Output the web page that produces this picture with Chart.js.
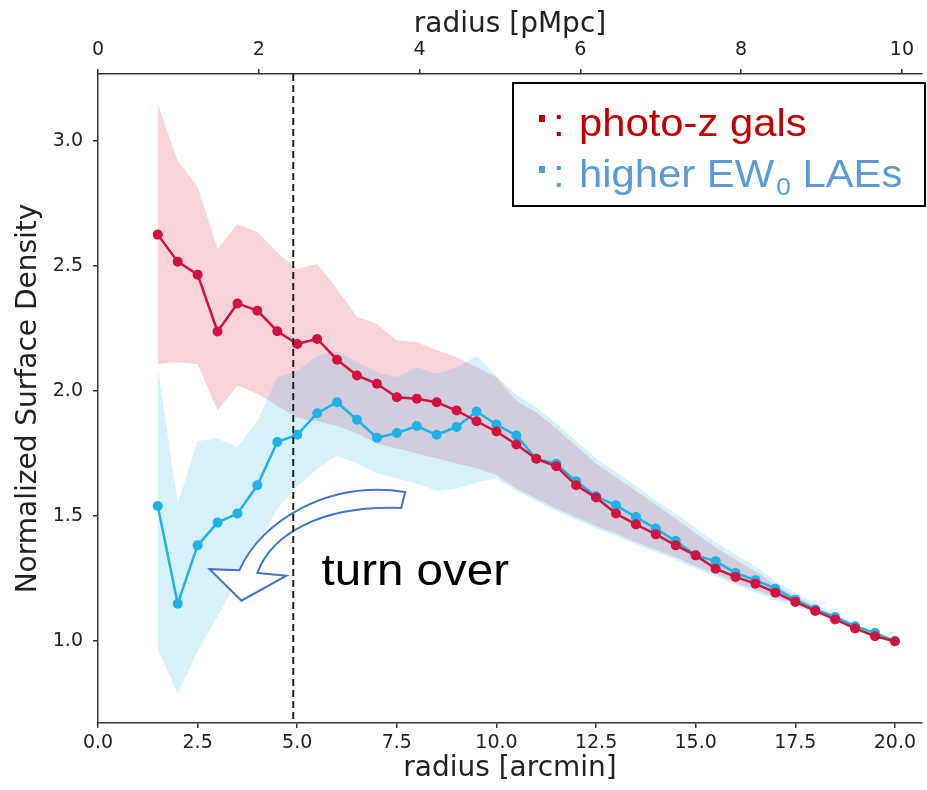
<!DOCTYPE html>
<html>
<head>
<meta charset="utf-8">
<script src="https://cdn.jsdelivr.net/npm/chart.js@4.4.1/dist/chart.umd.min.js"></script>
<style>
  html, body { margin: 0; padding: 0; background: #fff; overflow: hidden; }
</style>
</head>
<body>
<canvas id="grafico" width="927" height="790"></canvas>
<script>
// raio em arcmin (eixo de baixo)
const radiusArcmin = [1.5, 2.0, 2.5, 3.0, 3.5, 4.0, 4.5, 5.0, 5.5, 6.0, 6.5, 7.0, 7.5, 8.0, 8.5, 9.0, 9.5, 10.0,
  10.5, 11.0, 11.5, 12.0, 12.5, 13.0, 13.5, 14.0, 14.5, 15.0, 15.5, 16.0, 16.5, 17.0, 17.5, 18.0, 18.5, 19.0, 19.5, 20.0];

// photo-z gals
const photozDensity = [2.625, 2.517, 2.465, 2.238, 2.350, 2.321, 2.239, 2.188, 2.208, 2.125, 2.062, 2.029, 1.975, 1.969, 1.955, 1.922, 1.879, 1.838,
  1.786, 1.729, 1.699, 1.623, 1.574, 1.510, 1.467, 1.427, 1.383, 1.343, 1.290, 1.257, 1.230, 1.194, 1.157, 1.121, 1.087, 1.051, 1.020, 1.000];
const photozUpper = [3.147, 2.920, 2.816, 2.568, 2.667, 2.634, 2.554, 2.488, 2.508, 2.408, 2.297, 2.268, 2.202, 2.195, 2.164, 2.135, 2.095, 2.055,
  1.960, 1.915, 1.850, 1.780, 1.710, 1.655, 1.600, 1.545, 1.490, 1.430, 1.375, 1.325, 1.280, 1.225, 1.180, 1.140, 1.095, 1.060, 1.020, 1.000];
const photozLower = [2.108, 2.115, 2.108, 1.922, 2.022, 1.989, 1.940, 1.893, 1.880, 1.860, 1.830, 1.790, 1.770, 1.750, 1.730, 1.710, 1.690, 1.665,
  1.610, 1.570, 1.530, 1.495, 1.460, 1.430, 1.395, 1.365, 1.335, 1.300, 1.270, 1.235, 1.205, 1.175, 1.150, 1.120, 1.095, 1.065, 1.035, 1.000];

// higher EW0 LAEs
const laeDensity = [1.540, 1.150, 1.383, 1.474, 1.510, 1.623, 1.796, 1.825, 1.911, 1.955, 1.885, 1.813, 1.832, 1.860, 1.825, 1.856, 1.918, 1.866,
  1.822, 1.729, 1.709, 1.639, 1.579, 1.543, 1.496, 1.450, 1.400, 1.343, 1.320, 1.273, 1.244, 1.210, 1.166, 1.127, 1.097, 1.060, 1.033, 1.000];
const laeUpper = [2.095, 1.550, 1.800, 1.810, 1.776, 1.880, 2.055, 2.080, 2.140, 2.160, 2.115, 2.075, 2.055, 2.095, 2.069, 2.095, 2.140, 2.060,
  1.985, 1.935, 1.870, 1.800, 1.730, 1.675, 1.620, 1.563, 1.510, 1.450, 1.395, 1.345, 1.300, 1.240, 1.195, 1.150, 1.105, 1.065, 1.025, 1.000];
const laeLower = [0.970, 0.790, 0.960, 1.100, 1.243, 1.385, 1.528, 1.620, 1.687, 1.742, 1.710, 1.670, 1.650, 1.630, 1.600, 1.610, 1.635, 1.650,
  1.600, 1.560, 1.520, 1.485, 1.450, 1.420, 1.385, 1.355, 1.325, 1.290, 1.260, 1.225, 1.195, 1.165, 1.140, 1.110, 1.085, 1.060, 1.030, 1.000];

// ticks
const xTicks = [0, 2.5, 5, 7.5, 10, 12.5, 15, 17.5, 20];
const topTicks = [0, 2, 4, 6, 8, 10];
const yTicks = [1.0, 1.5, 2.0, 2.5, 3.0];

// linha tracejada (turn over)
const turnOverRadius = 4.9;

const pontos = (ys) => radiusArcmin.map((x, i) => ({ x: x, y: ys[i] }));

// texto esticado na horizontal (caixa de texto do slide)
function textoEsticado(ctx, texto, x, y, escala) {
  ctx.save();
  ctx.translate(x, y);
  ctx.scale(escala, 1);
  ctx.fillText(texto, 0, 0);
  ctx.restore();
  return ctx.measureText(texto).width * escala;
}

const overlayPlugin = {
  id: 'overlay',
  afterDraw(chart) {
    const { ctx, chartArea: a } = chart;
    const sx = chart.scales.x, sy = chart.scales.y;
    const P = (vx, vy) => [sx.getPixelForValue(vx), sy.getPixelForValue(vy)];
    ctx.save();

    // seta curva
    ctx.beginPath();
    ctx.moveTo(...P(7.71, 1.596));
    ctx.bezierCurveTo(...P(5.81, 1.644), ...P(4.10, 1.484), ...P(3.55, 1.284));
    ctx.lineTo(...P(2.80, 1.288));
    ctx.lineTo(...P(3.60, 1.162));
    ctx.lineTo(...P(4.73, 1.262));
    ctx.lineTo(...P(4.00, 1.273));
    ctx.bezierCurveTo(...P(4.35, 1.424), ...P(5.56, 1.544), ...P(7.61, 1.532));
    ctx.closePath();
    ctx.fillStyle = '#ffffff';
    ctx.fill();
    ctx.strokeStyle = '#4472c4';
    ctx.lineWidth = 2;
    ctx.lineJoin = 'miter';
    ctx.stroke();

    // linha tracejada
    const xd = sx.getPixelForValue(turnOverRadius);
    ctx.setLineDash([7, 4]);
    ctx.strokeStyle = '#222';
    ctx.lineWidth = 2;
    ctx.beginPath();
    ctx.moveTo(xd, a.top);
    ctx.lineTo(xd, a.bottom);
    ctx.stroke();
    ctx.setLineDash([]);

    // "turn over"
    ctx.fillStyle = '#000';
    ctx.font = '44px "Liberation Sans", Arial, sans-serif';
    ctx.textBaseline = 'alphabetic';
    const [tx, ty] = P(5.61, 1.225);
    textoEsticado(ctx, 'turn over', tx, ty, 1.08);

    // legenda (caixa)
    ctx.fillStyle = '#fff';
    ctx.fillRect(513, 83, 412, 123);
    ctx.strokeStyle = '#000';
    ctx.lineWidth = 2;
    ctx.strokeRect(513, 83, 412, 123);

    const esc = 1.1;
    ctx.font = '38px "Liberation Sans", Arial, sans-serif';
    ctx.fillStyle = '#c00000';
    ctx.fillRect(539, 115, 6, 7);
    textoEsticado(ctx, ':', 553, 136, esc);
    textoEsticado(ctx, 'photo-z gals', 579, 136, esc);

    ctx.fillStyle = '#5b9bd5';
    ctx.fillRect(539, 166, 6, 7);
    textoEsticado(ctx, ':', 553, 187, esc);
    let px = 579 + textoEsticado(ctx, 'higher EW', 579, 187, esc);
    ctx.font = '24px "Liberation Sans", Arial, sans-serif';
    px += 2 + textoEsticado(ctx, '0', px + 2, 195, esc);
    ctx.font = '38px "Liberation Sans", Arial, sans-serif';
    textoEsticado(ctx, ' LAEs', px, 187, esc);

    ctx.restore();
  }
};

Chart.defaults.font.family = '"DejaVu Sans", sans-serif';
Chart.defaults.color = '#222';

const corVermelha = '#d2123f';
const corAzul = '#1fb2e6';

new Chart(document.getElementById('grafico').getContext('2d'), {
  type: 'line',
  data: {
    datasets: [
      {
        data: pontos(photozUpper), fill: '+1', backgroundColor: 'rgba(220,20,60,0.19)',
        borderWidth: 0, pointRadius: 0, order: 4
      },
      {
        data: pontos(photozLower), fill: false, borderWidth: 0, pointRadius: 0, order: 5
      },
      {
        data: pontos(laeUpper), fill: '+1', backgroundColor: 'rgba(40,180,235,0.19)',
        borderWidth: 0, pointRadius: 0, order: 2
      },
      {
        data: pontos(laeLower), fill: false, borderWidth: 0, pointRadius: 0, order: 3
      },
      {
        data: pontos(laeDensity), borderColor: corAzul, backgroundColor: corAzul,
        borderWidth: 2.5, pointRadius: 5, pointBorderWidth: 0, fill: false, order: 1
      },
      {
        data: pontos(photozDensity), borderColor: corVermelha, backgroundColor: corVermelha,
        borderWidth: 2.5, pointRadius: 5, pointBorderWidth: 0, fill: false, order: 0
      }
    ]
  },
  options: {
    responsive: false,
    animation: false,
    devicePixelRatio: 1,
    layout: { padding: 0 },
    plugins: {
      legend: { display: false },
      tooltip: { enabled: false }
    },
    scales: {
      x: {
        type: 'linear', position: 'bottom', min: 0, max: 20.68,
        afterBuildTicks: (s) => { s.ticks = xTicks.map(v => ({ value: v })); },
        afterFit: (s) => { s.height = 67; },
        ticks: { font: { size: 19 }, padding: 4, maxRotation: 0, callback: v => v.toFixed(1) },
        grid: { drawOnChartArea: false, tickLength: 5, color: '#333', lineWidth: 1.5 },
        border: { color: '#333', width: 1.5 },
        title: { display: true, text: 'radius [arcmin]', font: { size: 28 }, padding: { top: 0, bottom: 4 } }
      },
      x2: {
        type: 'linear', position: 'top', min: 0, max: 10.25,
        afterBuildTicks: (s) => { s.ticks = topTicks.map(v => ({ value: v })); },
        afterFit: (s) => { s.height = 74; },
        ticks: { font: { size: 19 }, padding: 8, maxRotation: 0 },
        grid: { drawOnChartArea: false, tickLength: 5, color: '#333', lineWidth: 1.5 },
        border: { color: '#333', width: 1.5 },
        title: { display: true, text: 'radius [pMpc]', font: { size: 28 }, padding: { top: 8, bottom: 0 } }
      },
      y: {
        type: 'linear', min: 0.673, max: 3.267,
        afterBuildTicks: (s) => { s.ticks = yTicks.map(v => ({ value: v })); },
        afterFit: (s) => { s.width = 98; },
        ticks: { font: { size: 19 }, padding: 10, callback: v => v.toFixed(1) },
        grid: { drawOnChartArea: false, tickLength: 5, color: '#333', lineWidth: 1.5 },
        border: { color: '#333', width: 1.5 },
        title: { display: true, text: 'Normalized Surface Density', font: { size: 28 }, padding: { top: 12, bottom: 0 } }
      }
    }
  },
  plugins: [overlayPlugin]
});
</script>
</body>
</html>
